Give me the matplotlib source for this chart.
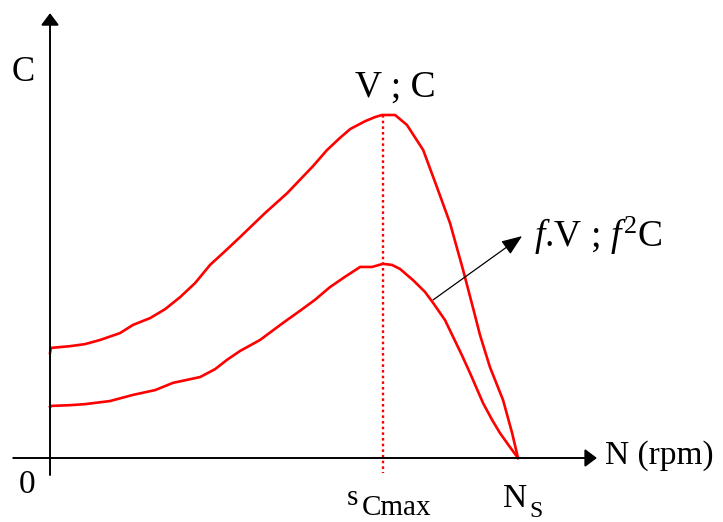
import matplotlib
matplotlib.use("Agg")
import matplotlib.pyplot as plt

plt.rcParams['font.family'] = ['Liberation Serif', 'DejaVu Serif']
plt.rcParams['mathtext.fontset'] = 'custom'
plt.rcParams['mathtext.rm'] = 'Liberation Serif'
plt.rcParams['mathtext.it'] = 'Liberation Serif:italic'

# Speed (rpm, synchronous speed Ns = 1500) and torque (% of max torque at V)
speed_v = [0, 3, 64, 112, 160, 224, 266, 321, 369, 417, 465, 513, 561, 609, 689,
           760, 843, 888, 929, 962, 1010, 1042, 1064, 1106, 1144, 1196, 1240, 1282,
           1324, 1356, 1378, 1410, 1452, 1481, 1500]
torque_v = [30.6, 32.1, 32.6, 33.2, 34.4, 36.4, 38.8, 40.8, 43.4, 46.9, 51.0, 56.3,
            60.3, 64.4, 71.4, 77.2, 85.1, 89.8, 93.3, 95.9, 98.2, 99.4, 100.0, 100.0,
            97.1, 89.8, 79.0, 68.5, 54.8, 43.7, 35.9, 26.5, 16.9, 7.3, 0.0]

speed_fv = [0, 6, 64, 112, 192, 266, 337, 394, 481, 529, 567, 609, 673, 747, 801,
            849, 897, 945, 994, 1032, 1067, 1096, 1122, 1163, 1202, 1228, 1266, 1292,
            1320, 1346, 1388, 1417, 1442, 1474, 1500]
torque_fv = [14.9, 15.2, 15.4, 15.7, 16.6, 18.4, 19.8, 21.9, 23.6, 25.9, 28.6, 31.2,
             34.4, 39.4, 42.9, 46.1, 49.8, 52.8, 55.7, 55.7, 56.6, 56.3, 55.1, 51.9,
             48.4, 45.2, 40.2, 35.3, 30.0, 24.8, 16.0, 11.1, 7.3, 3.2, 0.0]

n_cmax = 1067
c_max = 100.0
n_sync = 1500

fig = plt.figure(figsize=(7.23, 5.22), dpi=100)
ax = fig.add_axes([0, 0, 1, 1])
ax.set_xlim(-160.3, 2157)
ax.set_ylim(-18.66, 133.53)
ax.axis('off')

# axes with arrows
ax.annotate('', xy=(1753, 0), xytext=(-118, 0),
            arrowprops=dict(arrowstyle='-|>,head_length=0.6,head_width=0.45',
                            color='black', lw=1.4, mutation_scale=12,
                            shrinkA=0, shrinkB=0))
ax.annotate('', xy=(0, 129.7), xytext=(0, -4.96),
            arrowprops=dict(arrowstyle='-|>,head_length=0.6,head_width=0.45',
                            color='black', lw=1.4, mutation_scale=12,
                            shrinkA=0, shrinkB=0))

# curves
ax.plot(speed_v, torque_v, color='red', lw=1.9, solid_joinstyle='round')
ax.plot(speed_fv, torque_fv, color='red', lw=1.9, solid_joinstyle='round')

# dotted line at s_Cmax
ax.plot([n_cmax, n_cmax], [c_max, -4.4], color='red', lw=1.7,
        linestyle=(0, (1.1, 1.3)))

# annotation arrow
ax.annotate('', xy=(1513, 64.7), xytext=(1228, 46.1),
            arrowprops=dict(arrowstyle='-|>,head_length=0.9,head_width=0.35',
                            color='black', lw=0.9, mutation_scale=14,
                            shrinkA=0, shrinkB=0))

# texts
ax.text(-86.5, 112.5, 'C', fontsize=25, ha='center', va='center')
ax.text(-73.7, -7.9, '0', fontsize=24, ha='center', va='center')
ax.text(1779, 0.6, 'N (rpm)', fontsize=24, ha='left', va='center')
ax.text(1106, 107.9, 'V ; C', fontsize=27, ha='center', va='center')
ax.text(1552, 64.7, r'$\mathit{f}$.V ; $\mathit{f}^{2}$C', fontsize=27,
        ha='left', va='center')
ax.text(952, -13.7, 's', fontsize=21, ha='left', va='baseline')
ax.text(1000, -16.6, 'Cmax', fontsize=21, ha='left', va='baseline')
ax.text(1452, -14.3, 'N', fontsize=24, ha='left', va='baseline')
ax.text(1538, -17.2, 'S', fontsize=17, ha='left', va='baseline')

fig.savefig('out.png', dpi=100)
